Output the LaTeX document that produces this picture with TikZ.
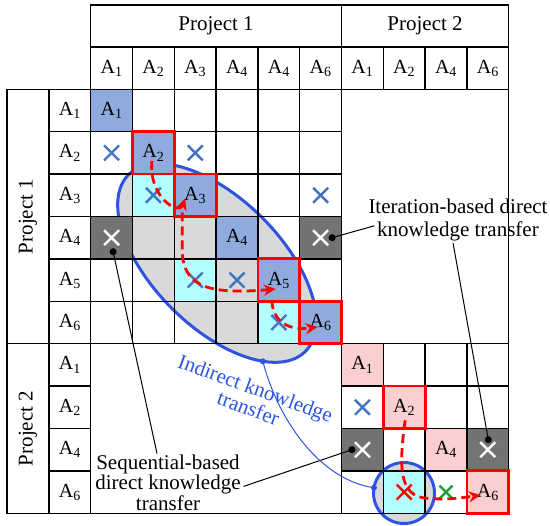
\documentclass[tikz,border=0pt]{standalone}
\usepackage{fontspec}
\setmainfont{Liberation Serif}
\usetikzlibrary{arrows.meta,shapes.misc,shapes.geometric,calc}

\definecolor{cellblue}{HTML}{8FAADC}
\definecolor{cellcyan}{HTML}{B3FFFF}
\definecolor{cellpink}{HTML}{FBCFCF}
\definecolor{celldark}{HTML}{737373}
\definecolor{zonegray}{HTML}{D9D9D9}
\definecolor{markblue}{HTML}{4472C4}
\definecolor{linkblue}{RGB}{45,85,225}
\definecolor{markgreen}{RGB}{30,160,60}

\pgfdeclarelayer{under}
\pgfdeclarelayer{tint}
\pgfsetlayers{under,tint,main}

\newcommand\Asub[1]{A\textsubscript{#1}}

\tikzset{
  gridcell/.style={draw=black, line width=1.3pt, minimum width=41.8pt,
    minimum height=42.4pt, inner sep=0pt, outer sep=0pt},
  headbox/.style={draw=black, line width=1.3pt, inner sep=0pt, outer sep=0pt,
    font=\fontsize{21}{24}\selectfont},
  actlabel/.style={font=\fontsize{20}{24}\selectfont, inner sep=0pt},
  xmark/.style={cross out, draw=#1, line width=2.4pt, minimum size=15pt,
    inner sep=0pt, outer sep=0pt},
  redbox/.style={draw=red, line width=2.8pt},
  flow/.style={draw=red, line width=2.8pt, dash pattern=on 9pt off 5pt,
    -{Stealth[length=12pt,width=11pt]}},
  note/.style={align=center, inner sep=0pt, outer sep=0pt},
  pointer/.style={draw=black, line width=1pt},
  zonestyle/.style={fill=zonegray, draw=linkblue, line width=3pt,
    inner sep=0pt, outer sep=0pt},
}

\begin{document}
\begin{tikzpicture}[x=1pt,y=-1pt]
\useasboundingbox (0,0) rectangle (550,526);

% shaded zones behind the matrix
\begin{pgfonlayer}{under}
  \node[zonestyle, ellipse, rotate=-45, minimum width=250pt, minimum height=128pt]
    (zone) at (217,263) {};
  \node[zonestyle, circle, minimum size=61pt] (focus) at (404,493) {};
\end{pgfonlayer}

% headers
\node[headbox, minimum width=250.8pt, minimum height=42pt] (top1) at (216.1,26) {Project 1};
\node[headbox, minimum width=167.2pt, minimum height=42pt] (top2) at (425.1,26) {Project 2};
\node[headbox, rotate=90, minimum width=254.4pt, minimum height=42pt] (side1) at (28,216.5) {Project 1};
\node[headbox, rotate=90, minimum width=169.6pt, minimum height=42pt] (side2) at (28,428.5) {Project 2};

\foreach \n [count=\j] in {1,2,3,4,4,6}
  \node[gridcell, actlabel] (hp-\j) at ({90.7+(\j-0.5)*41.8},68.1) {\Asub{\n}};
\foreach \n [count=\j] in {1,2,4,6}
  \node[gridcell, actlabel] (hq-\j) at ({341.5+(\j-0.5)*41.8},68.1) {\Asub{\n}};
\foreach \n [count=\i] in {1,2,3,4,5,6}
  \node[gridcell, actlabel] (vp-\i) at (69.85,{89.3+(\i-0.5)*42.4}) {\Asub{\n}};
\foreach \n [count=\i] in {1,2,4,6}
  \node[gridcell, actlabel] (vq-\i) at (69.85,{343.7+(\i-0.5)*42.4}) {\Asub{\n}};

% matrix cells
\foreach \i in {1,...,6}{\foreach \j in {1,...,6}{
  \node[gridcell] (p-\i-\j) at ({90.7+(\j-0.5)*41.8},{89.3+(\i-0.5)*42.4}) {};}}
\foreach \i in {1,...,4}{\foreach \j in {1,...,4}{
  \node[gridcell] (q-\i-\j) at ({341.5+(\j-0.5)*41.8},{343.7+(\i-0.5)*42.4}) {};}}

% off-diagonal blocks
\draw[line width=1.3pt] (p-1-6.north east) rectangle (q-1-4.north east);
\draw[line width=1.3pt] (p-6-1.south west) rectangle (q-4-1.south west);

% cell tints
\begin{pgfonlayer}{tint}
  \foreach \c in {p-1-1,p-2-2,p-3-3,p-4-4,p-5-5,p-6-6}
    \fill[cellblue] (\c.south west) rectangle (\c.north east);
  \foreach \c in {p-3-2,p-5-3,p-6-5,q-4-2}
    \fill[cellcyan] (\c.south west) rectangle (\c.north east);
  \foreach \c in {q-1-1,q-2-2,q-3-3,q-4-4}
    \fill[cellpink] (\c.south west) rectangle (\c.north east);
  \foreach \c in {p-4-1,p-4-6,q-3-1,q-3-4}
    \fill[celldark] (\c.south west) rectangle (\c.north east);
\end{pgfonlayer}

% activity labels on the diagonals
\foreach \k in {1,...,6}
  \node[actlabel] (ap-\k) at (p-\k-\k) {\Asub{\k}};
\foreach \n [count=\k] in {1,2,4,6}
  \node[actlabel] (aq-\k) at (q-\k-\k) {\Asub{\n}};

% dependency marks
\foreach \c [count=\k] in {p-2-1,p-2-3,p-3-2,p-3-6,p-5-3,p-5-4,p-6-5,q-2-1}
  \node[xmark=markblue] (xb-\k) at (\c) {};
\foreach \c [count=\k] in {p-4-1,p-4-6,q-3-1,q-3-4}
  \node[xmark=white] (xw-\k) at (\c) {};
\node[xmark=red] (xr) at (q-4-2) {};
\node[xmark=markgreen, minimum size=13pt] (xg) at (q-4-3) {};

% highlighted activities
\foreach \c in {p-2-2,p-3-3,p-5-5,p-6-6,q-2-2,q-4-4}
  \draw[redbox] (\c.south west) rectangle (\c.north east);

% iteration paths
\draw[flow] ($(p-2-2)+(-1.5,8)$) .. controls ($(p-2-2)+(-5,45)$) and ($(p-3-3)+(-16,20)$) .. ($(p-3-3)+(-10,3)$);
\draw[flow] ($(p-3-3)+(-13,17)$) -- ($(p-4-3)+(-13,12)$)
  .. controls ($(p-5-3)+(-13,10)$) and ($(p-5-3)+(20,14)$) .. ($(p-5-5)+(-3,9)$);
\draw[flow] ($(p-5-5)+(-7,20)$) .. controls ($(p-6-5)+(-6,0)$) and ($(p-6-5)+(11,8.5)$) .. ($(p-6-6)+(-3,4.5)$);
\draw[flow] ($(q-2-2)+(1,13)$) .. controls ($(q-3-2)+(-6,20)$) and ($(q-4-2)+(-4,3)$) .. ($(q-4-2)+(21,6)$)
  .. controls ($(q-4-3)+(-1,8)$) and ($(q-4-3)+(14,6)$) .. ($(q-4-4)+(-7,3)$);

% annotations
\node[note, anchor=north, font=\fontsize{21}{20.5}\selectfont] (seq) at (168,454.5)
  {Sequential-based\\direct knowledge\\transfer};
\node[note, anchor=north, font=\fontsize{21}{23}\selectfont] (iter) at (458,198.7)
  {Iteration-based direct\\knowledge transfer};
\node[note, rotate=-20, text=linkblue, font=\fontsize{21}{21}\selectfont] (indir) at (252,398)
  {Indirect knowledge\\transfer};

\coordinate (dseq) at ($(p-4-1)+(1.5,14)$);
\coordinate (dseq2) at ($(q-3-1)+(-10.5,0)$);
\coordinate (diter) at ($(p-4-6)+(11.5,0)$);
\coordinate (diter2) at ($(q-3-4)+(0.5,-10)$);

\draw[pointer] (dseq) -- ($(seq.north)+(-11,-1)$);
\draw[pointer] ($(seq.east)+(3,4)$) -- (dseq2);
\draw[pointer] (diter) -- ($(iter.west)+(6,6)$);
\draw[pointer] ($(iter.south)+(-5,2)$) -- (diter2);
\foreach \d in {dseq,dseq2,diter,diter2}
  \fill (\d) circle [radius=3.5pt];

\draw[linkblue, line width=1pt] (zone.-20) .. controls (278,420) and (320,480) .. (focus.170);
\fill[linkblue] (zone.-20) circle [radius=3pt];
\fill[linkblue] (focus.170) circle [radius=3pt];
\end{tikzpicture}
\end{document}
